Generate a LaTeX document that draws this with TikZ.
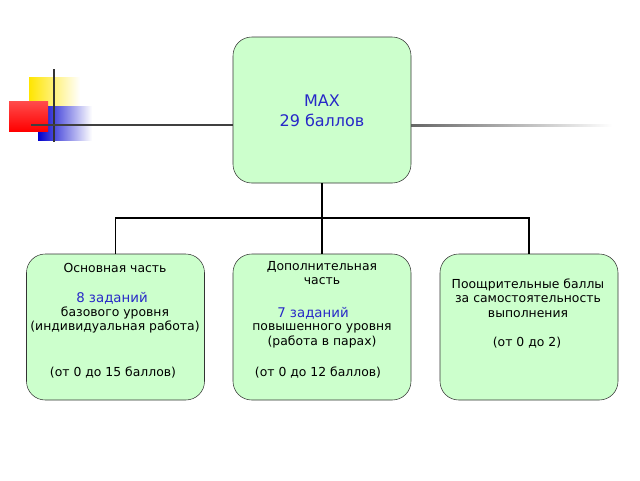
\documentclass[tikz,border=0pt]{standalone}
\usepackage{fontspec}
\setmainfont{DejaVu Sans}
\usetikzlibrary{positioning}
\definecolor{boxgreen}{RGB}{204,255,204}
\definecolor{titleblue}{RGB}{40,40,200}
\tikzset{
  box/.style={draw=black!80, fill=boxgreen, rounded corners=14pt, minimum width=133.5pt, minimum height=109.5pt},
  txt/.style={align=center, inner sep=0pt, font=\fontsize{9.3}{10.8}\selectfont},
  blue/.style={font=\fontsize{10}{12}\selectfont, text=titleblue},
  link/.style={draw=black, line width=1.4pt}
}
\begin{document}
\begin{tikzpicture}[x=0.75pt, y=-0.75pt]
  \useasboundingbox (0,0) rectangle (640,480);
  %% decoration
  \shade[left color=yellow!80!orange, right color=white] (29,77) rectangle (80,108);
  \shade[left color=blue!80!black, right color=white] (38,106) rectangle (92,140);
  \shade[right color=red, left color=white, top color=red!70] (9,101) rectangle (48,131);
  \draw[line width=1.5pt, black!80] (54,69) -- (54,142);
  \draw[line width=1.5pt, black!75] (31,125) -- (233,125);
  \shade[left color=black!60, right color=white] (411,124) rectangle (612,126.5);
  %% boxes
  \node[box] (top) at (322,110) {};
  \node[box] (main) at (115.5,327) {};
  \node[box] (extra) at (322,327) {};
  \node[box] (bonus) at (529,327) {};
  %% texts
  \node[txt, font=\fontsize{12}{15}\selectfont, text=titleblue] (toptxt) at (322,111) {MAX\\29 баллов};
  \node[txt] (m1) at (115,268) {Основная часть};
  \node[txt, blue] (m2) at (112,298) {8 заданий};
  \node[txt] (m3) at (115,320) {базового уровня\\(индивидуальная работа)};
  \node[txt] (m4) at (113,373) {(от 0 до 15 баллов)};
  \node[txt] (e1) at (322,273) {Дополнительная\\часть};
  \node[txt, blue] (e2) at (313,313) {7 заданий};
  \node[txt] (e3) at (322,336) {повышенного уровня\\(работа в парах)};
  \node[txt] (e4) at (318,373) {(от 0 до 12 баллов)};
  \node[txt] (b1) at (528,298) {Поощрительные баллы\\за самостоятельность\\выполнения};
  \node[txt] (b2) at (527,343) {(от 0 до 2)};
  %% connectors
  \coordinate (fork) at (322,218);
  \draw[link] (top.south) -- (fork);
  \draw[link] (main.north) |- (fork) -| (bonus.north);
  \draw[link] (fork) -- (extra.north);
\end{tikzpicture}
\end{document}
